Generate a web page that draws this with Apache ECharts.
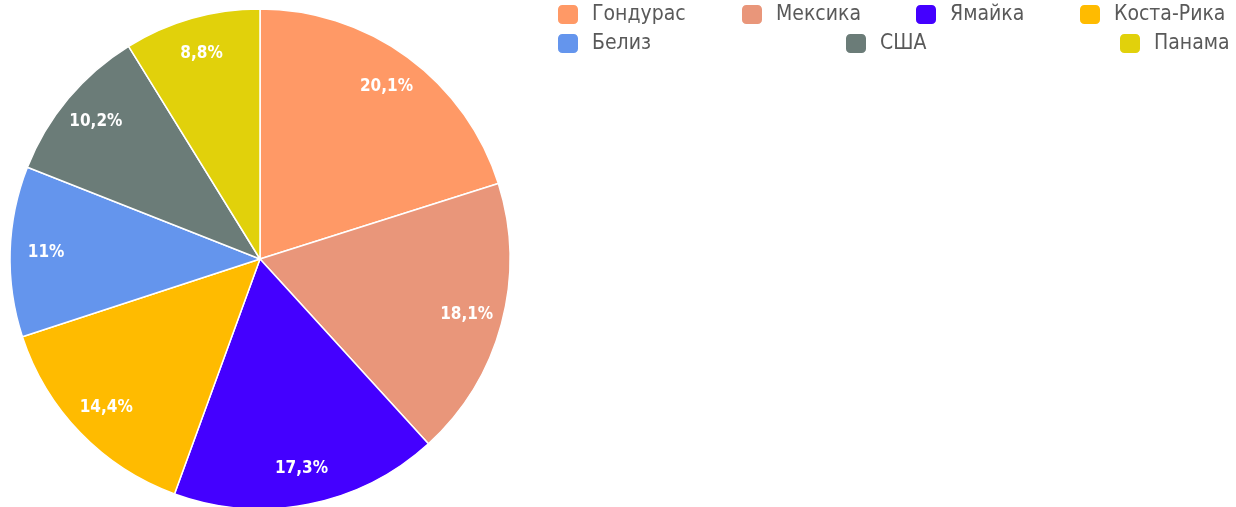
<!DOCTYPE html>
<html>
<head>
<meta charset="utf-8">
<script src="https://cdn.jsdelivr.net/npm/echarts@6/dist/echarts.min.js"></script>
<style>
  html, body { margin: 0; padding: 0; background: #fff; }
  #chart { width: 1236px; height: 507px; }
</style>
</head>
<body>
<div id="chart"></div>
<script>
const countries = ['Гондурас', 'Мексика', 'Ямайка', 'Коста-Рика', 'Белиз', 'США', 'Панама'];
const shares = [20.1, 18.1, 17.3, 14.4, 11, 10.2, 8.8];
const colors = ['#FF9966', '#E9967A', '#4400FF', '#FFBB00', '#6495ED', '#6B7C78', '#E1D10B'];

// legend slots: [left, top] for every country
const legendSlots = [[556, 3], [740, 3], [914, 3], [1078, 3], [556, 32], [844, 32], [1118, 32]];

const FONT = '"DejaVu Sans Condensed", "DejaVu Sans", sans-serif';

const chart = echarts.init(document.getElementById('chart'), null, { renderer: 'canvas' });

const pieData = countries.map((name, i) => ({
  name: name,
  value: shares[i],
  itemStyle: { color: colors[i] }
}));

// one legend per item so the odd grid placement can be kept
const legends = countries.map((name, i) => ({
  data: [name],
  left: legendSlots[i][0],
  top: legendSlots[i][1],
  padding: 0,
  itemWidth: 22,
  itemHeight: 21,
  icon: 'roundRect',
  selectedMode: false,
  textStyle: {
    color: '#595959',
    fontFamily: FONT,
    fontSize: 21,
    padding: [0, 0, 0, 8]
  }
}));

chart.setOption({
  animation: false,
  backgroundColor: '#fff',
  color: colors,
  legend: legends,
  series: [
    {
      type: 'pie',
      center: [260, 259],
      radius: [0, 250],
      startAngle: 90,
      clockwise: true,
      silent: true,
      label: { show: false },
      labelLine: { show: false },
      itemStyle: { borderColor: '#fff', borderWidth: 1.5 },
      data: pieData
    },
    {
      // transparent ring that only carries the labels further out
      type: 'pie',
      center: [260, 259],
      radius: [172, 250],
      startAngle: 90,
      clockwise: true,
      silent: true,
      legendHoverLink: false,
      itemStyle: { color: 'rgba(0,0,0,0)', borderWidth: 0 },
      labelLine: { show: false },
      label: {
        show: true,
        position: 'inside',
        color: '#fff',
        fontFamily: FONT,
        fontWeight: 'bold',
        fontSize: 17,
        formatter: p => String(p.value).replace('.', ',') + '%'
      },
      data: countries.map((name, i) => ({ name: name, value: shares[i] }))
    }
  ]
});
</script>
</body>
</html>
